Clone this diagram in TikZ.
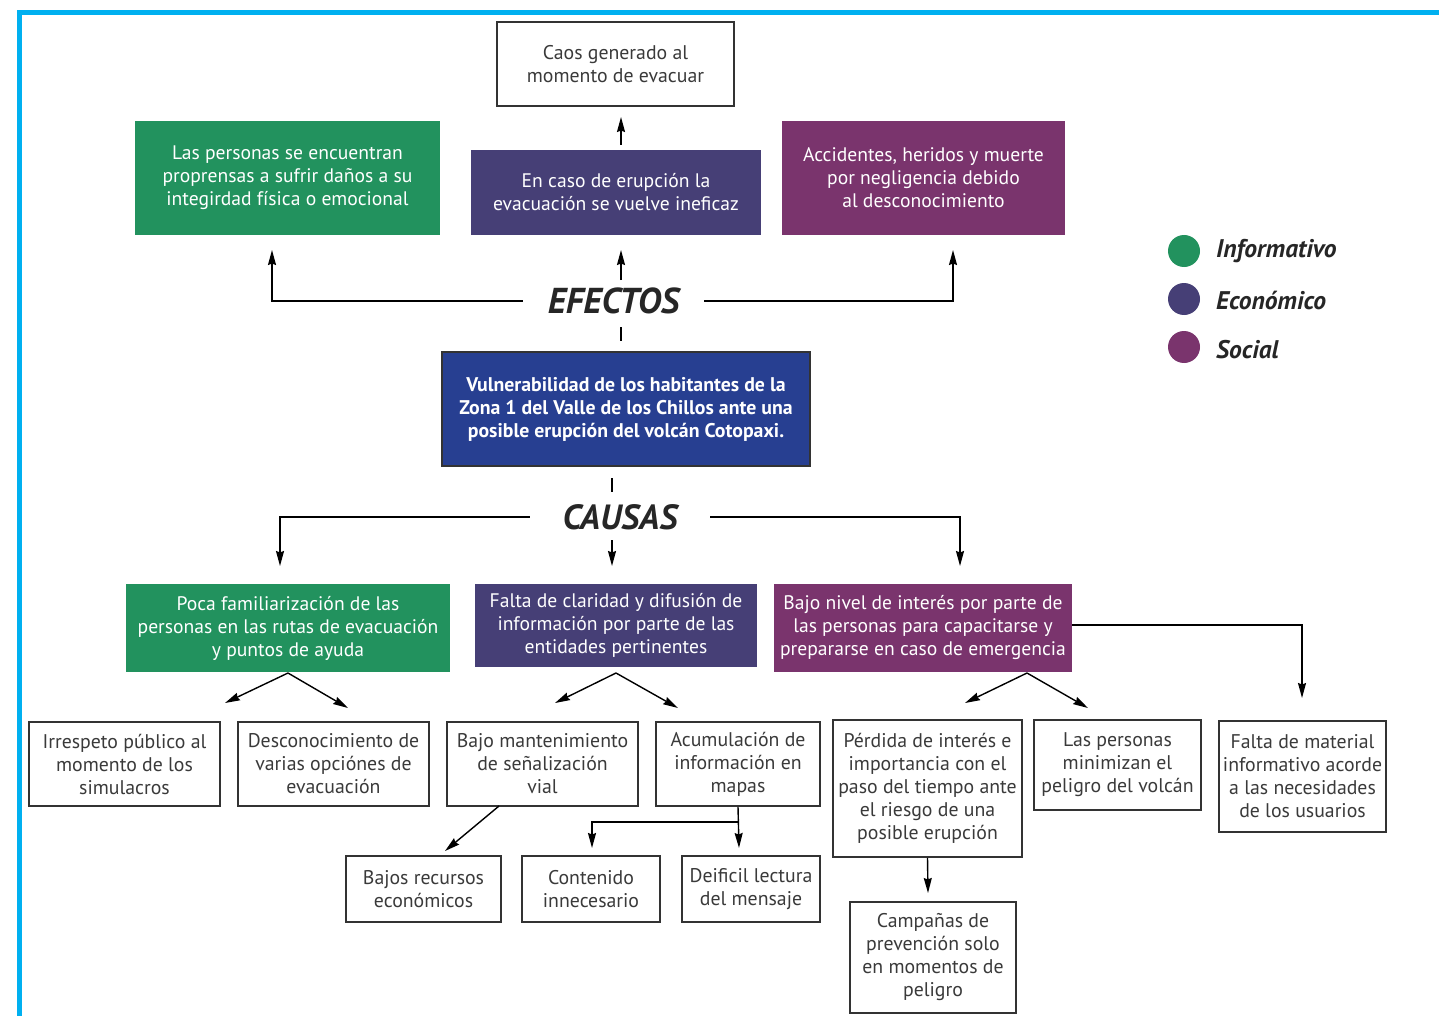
\documentclass[tikz,border=0pt]{standalone}
\usepackage{fontspec}
\setmainfont{PT Sans}
\usetikzlibrary{arrows.meta}
\definecolor{cinfo}{HTML}{22925E}
\definecolor{cecon}{HTML}{463F76}
\definecolor{csoc}{HTML}{7A346D}
\definecolor{ccent}{HTML}{273F91}
\definecolor{cframe}{HTML}{00B0F0}
\definecolor{bgray}{HTML}{333333}
\definecolor{tgray}{HTML}{3A3A3A}
\begin{document}
\begin{tikzpicture}[x=1pt,y=-1pt,
  wbox/.style={draw=bgray, line width=1.8pt, fill=white, align=center, inner sep=0pt,
    text=tgray, font=\fontsize{19.8}{23}\selectfont},
  cbox/.style={fill=#1, align=center, inner sep=0pt, text=white,
    font=\fontsize{19.6}{23}\selectfont},
  arr/.style={-{Stealth[length=15pt,width=8pt,inset=1.5pt]}, line width=1.4pt, draw=black},
  plain/.style={line width=1.4pt, draw=black},
  head/.style={inner sep=0pt, font=\fontsize{36}{40}\selectfont\bfseries\itshape, text=black!85},
  leg/.style={inner sep=0pt, anchor=west, font=\fontsize{25.5}{28}\selectfont\bfseries\itshape, text=black!85},
  dot/.style={circle, fill=#1, minimum size=32pt, inner sep=0pt}
]
\useasboundingbox (0,0) rectangle (1439,1016);
% frame
\draw[cframe, line width=5pt] (19.5,1020) -- (19.5,12.5) -- (1445,12.5);

% effects
\node[wbox, minimum width=237pt, minimum height=84pt] (caos) at (615.5,64) {Caos generado al\\momento de evacuar};
\node[cbox=cinfo, minimum width=305pt, minimum height=114pt] (ef1) at (287.5,178) {Las personas se encuentran\\proprensas a sufrir daños a su\\integirdad física o emocional};
\node[cbox=cecon, minimum width=290pt, minimum height=85pt] (ef2) at (616,192.5) {En caso de erupción la\\evacuación se vuelve ineficaz};
\node[cbox=csoc, minimum width=283pt, minimum height=114pt] (ef3) at (923.5,178) {Accidentes, heridos y muerte\\por negligencia debido\\al desconocimiento};

\node[head, minimum width=181pt, minimum height=40pt] (efe) at (613.5,301) {EFECTOS};

\node[fill=ccent, draw=bgray, line width=1.5pt, minimum width=368pt, minimum height=114pt, align=center, inner sep=0pt, text=white,
  font=\fontsize{19.8}{23}\selectfont\bfseries] (cen) at (626,409) {Vulnerabilidad de los habitantes de la\\Zona 1 del Valle de los Chillos ante una\\posible erupción del volcán Cotopaxi.};

\node[head, minimum width=180pt, minimum height=40pt, font=\fontsize{35}{38}\selectfont\bfseries\itshape] (cau) at (620,517) {CAUSAS};

% causes
\node[cbox=cinfo, minimum width=324pt, minimum height=88pt] (c1) at (288,628) {Poca familiarización de las\\personas en las rutas de evacuación\\y puntos de ayuda};
\node[cbox=cecon, minimum width=282pt, minimum height=83pt] (c2) at (616,625.5) {Falta de claridad y difusión de\\información por parte de las\\entidades pertinentes};
\node[cbox=csoc, minimum width=298pt, minimum height=88pt] (c3) at (923,628) {Bajo nivel de interés por parte de\\las personas para capacitarse y\\prepararse en caso de emergencia};

% sub causes
\node[wbox, minimum width=191pt, minimum height=84pt] (b1) at (124.5,764) {Irrespeto público al\\momento de los\\simulacros};
\node[wbox, minimum width=191pt, minimum height=84pt] (b2) at (333.5,764) {Desconocimiento de\\varias opciónes de\\evacuación};
\node[wbox, minimum width=191pt, minimum height=84pt] (b3) at (542.5,764) {Bajo mantenimiento\\de señalización\\vial};
\node[wbox, minimum width=164pt, minimum height=84pt] (b4) at (738,764) {Acumulación de\\información en\\mapas};
\node[wbox, minimum width=189pt, minimum height=137pt] (b5) at (927.5,788.5) {Pérdida de interés e\\importancia con el\\paso del tiempo ante\\el riesgo de una\\posible erupción};
\node[wbox, minimum width=167pt, minimum height=90pt] (b6) at (1117.5,765) {Las personas\\minimizan el\\peligro del volcán};
\node[wbox, minimum width=167pt, minimum height=111pt] (b7) at (1302.5,776.5) {Falta de material\\informativo acorde\\a las necesidades\\de los usuarios};

\node[wbox, minimum width=155pt, minimum height=66pt] (d1) at (423.5,889) {Bajos recursos\\económicos};
\node[wbox, minimum width=138pt, minimum height=66pt] (d2) at (591,889) {Contenido\\innecesario};
\node[wbox, minimum width=138pt, minimum height=66pt] (d3) at (751,889) {Deificil lectura\\del mensaje};
\node[wbox, minimum width=166pt, minimum height=111pt] (d4) at (933,957.5) {Campañas de\\prevención solo\\en momentos de\\peligro};

% legend
\node[dot=cinfo] (l1) at (1184,251) {};
\node[dot=cecon] (l2) at (1184,299) {};
\node[dot=csoc] (l3) at (1184,347) {};
\node[leg] (t1) at (1216,251) {Informativo};
\node[leg] (t2) at (1216,300) {Económico};
\node[leg] (t3) at (1216,350) {Social};

% coordinates for free ends
\coordinate (e1) at (272,250);
\coordinate (e3) at (953,250);
\coordinate (k1) at (280,566);
\coordinate (k3) at (960,566);

% effects connectors
\draw[arr] (efe.west) -| (e1);
\draw[arr] (efe.east) -| (e3);
\draw[arr] (621,280) -- (621,250);
\draw[arr] (621,145) -- (621,117);
\draw[plain] (621,327) -- (621,341);
% causes connectors
\draw[plain] (612,478) -- (612,492);
\draw[arr] (cau.west) -| (k1);
\draw[arr] (cau.east) -| (k3);
\draw[arr] (612,540) -- (612,566);

% splits
\coordinate (a1) at (288,673);
\coordinate (a2) at (616,673);
\coordinate (a3) at (1027,673);
\draw[arr] (a1) -- (225,703);
\draw[arr] (a1) -- (348,708);
\draw[arr] (a2) -- (555,703);
\draw[arr] (a2) -- (678,708);
\draw[arr] (a3) -- (965,703);
\draw[arr] (a3) -- (1088,708);

\draw[arr] (c3.east |- 0,625) -| (1302,698);
\draw[arr] (499,806) -- (445,851);
\draw[arr] (b4.south) -- (739,848);
\draw[arr] (739,822) -| (592,848);
\draw[arr] (b5.south) -- (928,893);
\end{tikzpicture}
\end{document}
